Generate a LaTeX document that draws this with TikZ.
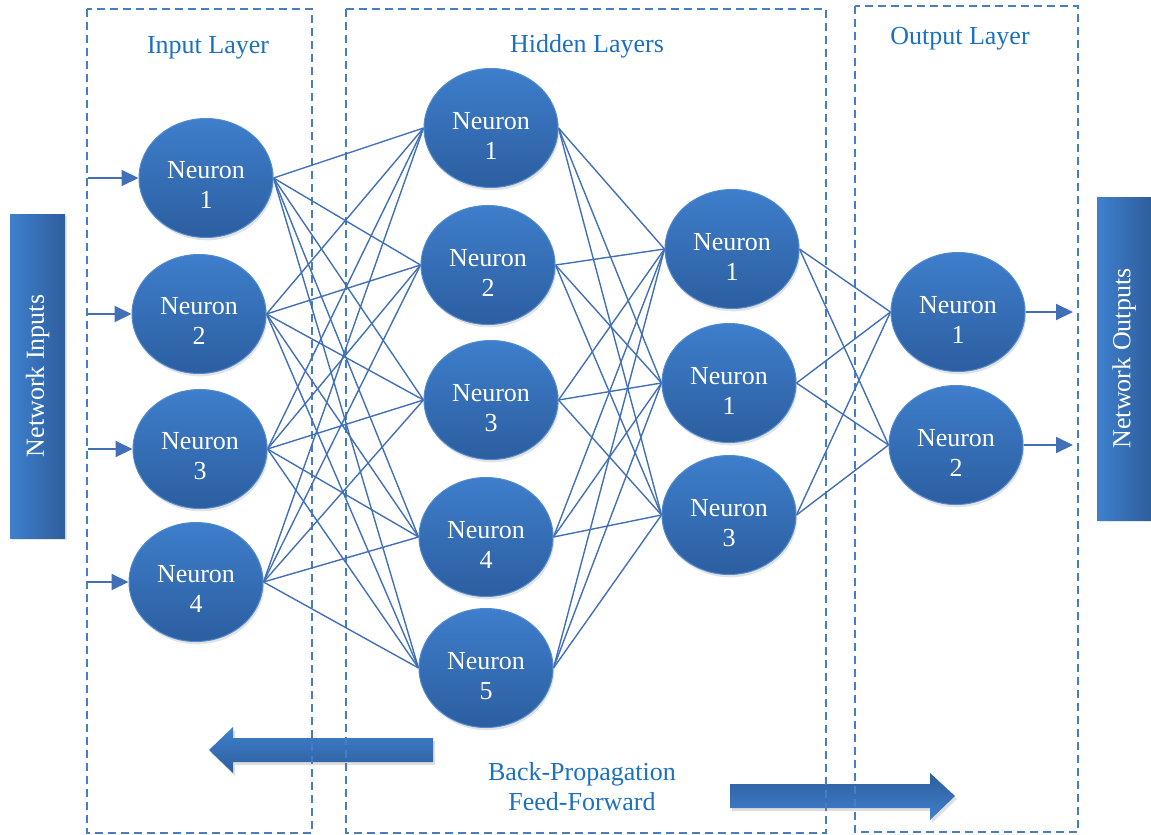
\documentclass[tikz,border=0pt]{standalone}
\usepackage{fontspec}
\setmainfont{Liberation Serif}
\usetikzlibrary{shapes.geometric,arrows.meta,shadows}

\definecolor{nfill1}{RGB}{62,126,203}
\definecolor{nfill2}{RGB}{44,94,160}
\definecolor{nrim}{RGB}{80,138,208}
\definecolor{wire}{RGB}{66,112,184}
\definecolor{frame}{RGB}{70,125,195}
\definecolor{caption}{RGB}{28,112,192}
\definecolor{barlight}{RGB}{62,128,206}
\definecolor{bardark}{RGB}{46,94,156}

\pgfdeclarelayer{back}
\pgfdeclarelayer{wires}
\pgfsetlayers{back,wires,main}

\begin{document}
\begin{tikzpicture}[x=0.5pt,y=-0.5pt,
  neuron/.style={ellipse, minimum width=67pt, minimum height=59.5pt, inner sep=0pt,
    top color=nfill1, bottom color=nfill2, draw=nrim, line width=0.5pt,
    drop shadow={opacity=0.22, shadow xshift=0.6pt, shadow yshift=-1.4pt}},
  ntext/.style={text=white, font=\fontsize{13}{15}\selectfont, align=center, inner sep=0pt},
  wire/.style={draw=wire, line width=0.7pt},
  feed/.style={draw=wire, line width=1pt, -{Triangle[length=8.5pt,width=8pt]}},
  frame/.style={draw=frame, line width=1pt, dash pattern=on 4pt off 2.5pt},
  caption/.style={text=caption, font=\fontsize{13}{15}\selectfont, align=center, inner sep=0pt},
  bar/.style={left color=barlight, right color=bardark, draw=none,
    text=white, font=\fontsize{13}{15}\selectfont, inner sep=0pt,
    drop shadow={opacity=0.2, shadow xshift=1pt, shadow yshift=-1pt}},
  bigarrow/.style={drop shadow={opacity=0.25, shadow xshift=1pt, shadow yshift=-1.5pt}}
]
\useasboundingbox (0,0) rectangle (1151,835);

% input layer
\node[neuron, label={[ntext, yshift=-3.6pt]center:Neuron\\1}] (I1) at (206,178) {};
\node[neuron, label={[ntext, yshift=-3.6pt]center:Neuron\\2}] (I2) at (199,314) {};
\node[neuron, label={[ntext, yshift=-3.6pt]center:Neuron\\3}] (I3) at (200,449) {};
\node[neuron, label={[ntext, yshift=-3.6pt]center:Neuron\\4}] (I4) at (196,582) {};

% first hidden layer
\node[neuron, label={[ntext, yshift=-4pt]center:Neuron\\1}] (H1) at (491,128) {};
\node[neuron, label={[ntext, yshift=-4pt]center:Neuron\\2}] (H2) at (488,265) {};
\node[neuron, label={[ntext, yshift=-4pt]center:Neuron\\3}] (H3) at (491,400) {};
\node[neuron, label={[ntext, yshift=-4pt]center:Neuron\\4}] (H4) at (486,537) {};
\node[neuron, label={[ntext, yshift=-4pt]center:Neuron\\5}] (H5) at (486,668) {};

% second hidden layer
\node[neuron, label={[ntext, yshift=-4pt]center:Neuron\\1}] (K1) at (732,249) {};
\node[neuron, label={[ntext, yshift=-4pt]center:Neuron\\1}] (K2) at (729,383) {};
\node[neuron, label={[ntext, yshift=-4pt]center:Neuron\\3}] (K3) at (729,515) {};

% output layer
\node[neuron, label={[ntext, yshift=-4pt]center:Neuron\\1}] (O1) at (958,312) {};
\node[neuron, label={[ntext, yshift=-4pt]center:Neuron\\2}] (O2) at (956,445) {};

% side bars (text runs bottom to top)
\node[bar, minimum width=27.5pt, minimum height=162pt] (netin) at (37.5,376) {};
\node[rotate=90, text=white, font=\fontsize{13}{15}\selectfont] (netintext) at (netin.center) {Network Inputs};
\node[bar, minimum width=27pt, minimum height=161.5pt] (netout) at (1124,358.5) {};
\node[rotate=90, text=white, font=\fontsize{13}{15}\selectfont] (netouttext) at (netout.center) {Network Outputs};

% layer captions
\node[caption] (capin) at (208,48) {Input Layer};
\node[caption] (caphid) at (587,46) {Hidden Layers};
\node[caption] (capout) at (960,39) {Output Layer};
\node[caption] (captrain) at (582,787) {Back-Propagation\\Feed-Forward};

% input and output feeds
\coordinate (inedge) at (88,0);
\coordinate (outedge) at (1073,0);
\foreach \i in {1,...,4}
  \draw[feed] (I\i.west -| inedge) -- (I\i.west);
\foreach \i in {1,2}
  \draw[feed] (O\i.east) -- (O\i.east -| outedge);

% fully connected weights
\begin{pgfonlayer}{wires}
\foreach \i in {1,...,4}
  \foreach \j in {1,...,5}
    \draw[wire] (I\i.east) -- (H\j.west);
\foreach \i in {1,...,5}
  \foreach \j in {1,2,3}
    \draw[wire] (H\i.east) -- (K\j.west);
\foreach \i in {1,2,3}
  \foreach \j in {1,2}
    \draw[wire] (K\i.east) -- (O\j.west);
\end{pgfonlayer}

% direction arrows and layer frames
\begin{pgfonlayer}{back}
\path[bigarrow, top color=barlight, bottom color=bardark]
  (433,738) -- (233,738) -- (233,727) -- (209,750) -- (233,773) -- (233,762) -- (433,762) -- cycle;
\path[bigarrow, top color=bardark, bottom color=barlight]
  (730,784) -- (930,784) -- (930,773) -- (955,796) -- (930,820) -- (930,808) -- (730,808) -- cycle;
\draw[frame] (87,9) rectangle (312,833);
\draw[frame] (346,9) rectangle (826,833);
\draw[frame] (855,6) rectangle (1078,832);
\end{pgfonlayer}
\end{tikzpicture}
\end{document}
